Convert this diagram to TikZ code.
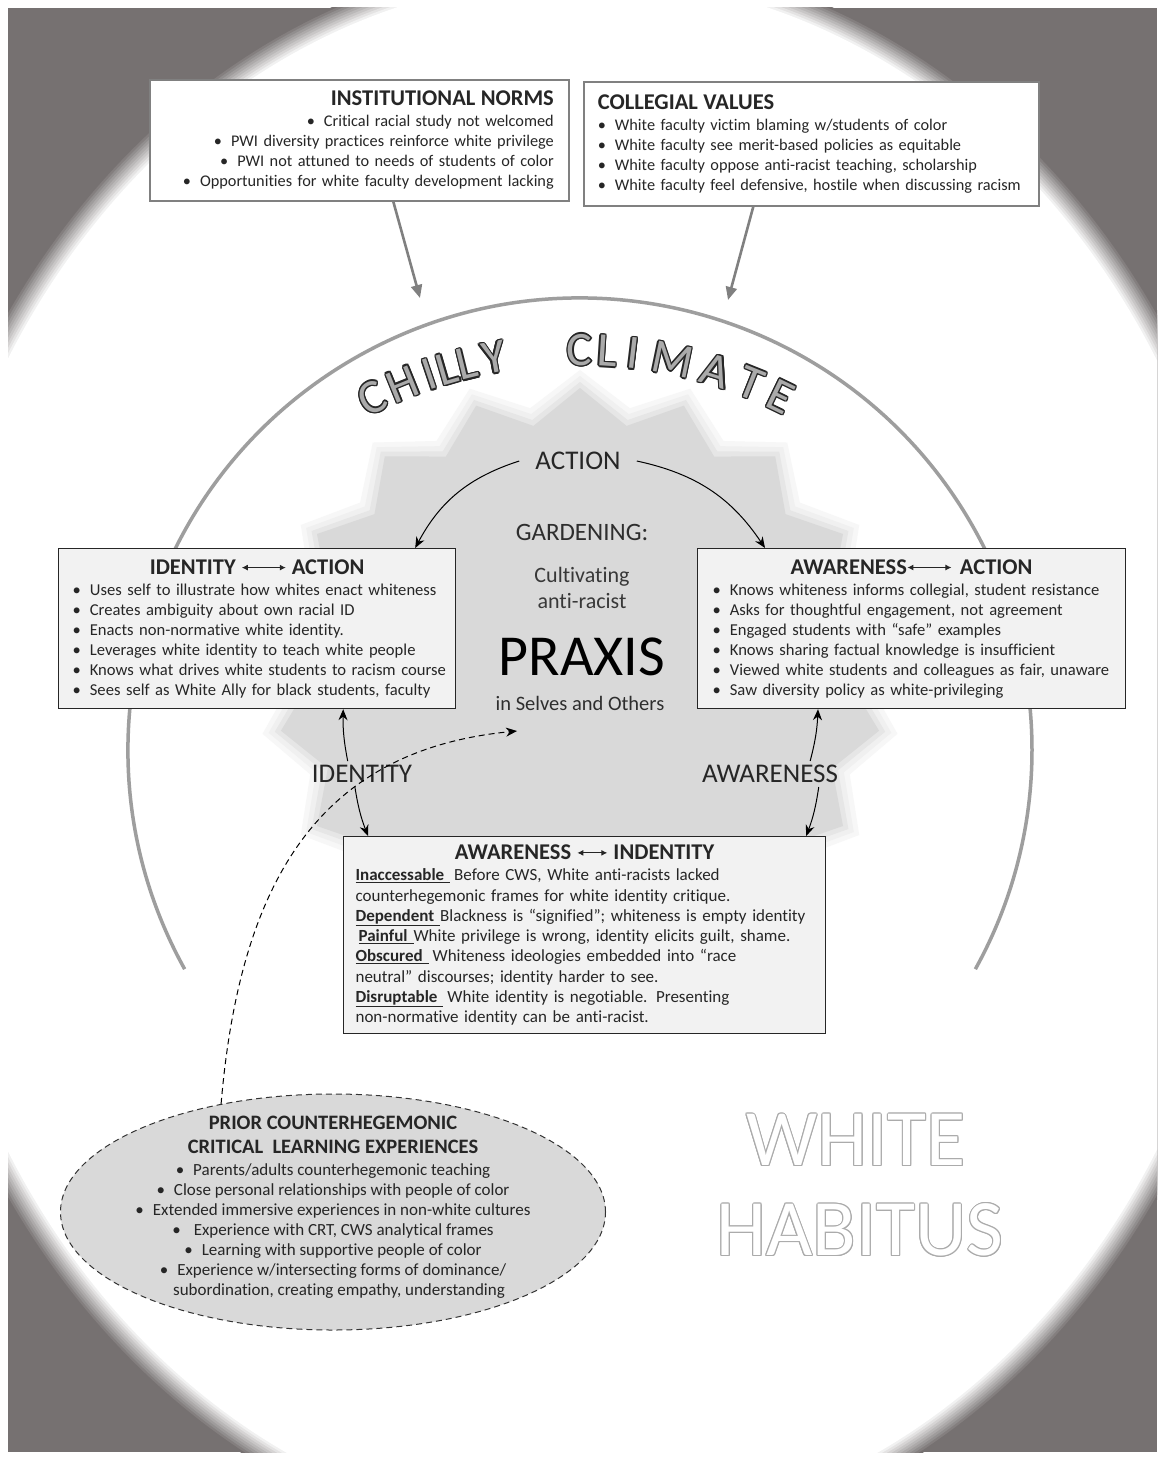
\documentclass[tikz,border=0pt]{standalone}
\usepackage{fontspec}
\setmainfont{Carlito}[Ligatures=NoCommon]
\usetikzlibrary{arrows.meta,calc,shapes.geometric}

\definecolor{framegray}{RGB}{118,113,113}
\definecolor{sungray}{RGB}{217,217,217}
\definecolor{boxgray}{RGB}{242,242,242}
\definecolor{ringgray}{RGB}{170,170,170}
\definecolor{inkgray}{RGB}{38,38,38}

% little double arrow used in the box titles
\newcommand\lrarr[1]{\tikz[baseline=-0.6ex]\draw[{Latex[length=6pt,width=6pt]}-{Latex[length=6pt,width=6pt]},line width=1pt] (0pt,0pt) -- (#1,0pt);}
\newcommand\boxhead[1]{{\bfseries\fontsize{22.5}{25}\selectfont #1}}
\newcommand\ovalhead[1]{{\bfseries\fontsize{20.5}{25}\selectfont #1}}
\newcommand\li[1]{\mbox{\textbullet\hspace{9pt}#1}}
\newcommand\term[1]{\underline{\textbf{#1}\hspace{6pt}}}
% text drawn as outline: copies in one colour, the fill on top
\newcommand\outlinetext[7]{%
  \foreach \oa in {0,30,...,330}
    \node[#3, text=#4] at ($(#2)+(\oa:#5)$) {#7};
  \node[#3, text=#6] (#1) at (#2) {#7};}

\tikzset{
  topbox/.style={draw=black!50, line width=1.6pt, fill=white, anchor=north west, inner sep=0pt,
    font=\fontsize{16.3}{20}\selectfont, text=inkgray},
  cycbox/.style={draw=black!85, line width=1.2pt, fill=boxgray, anchor=north west, inner sep=0pt,
    align=left, font=\fontsize{16.6}{20}\selectfont, text=inkgray},
  cyclabel/.style={font=\fontsize{27}{30}\selectfont, text=black!85, inner sep=4pt},
  cyc/.style={-{Stealth[length=11pt,width=9pt]}, line width=1pt},
  feed/.style={-{Triangle[length=13pt,width=11pt]}, line width=2.6pt, draw=black!50},
}

\begin{document}
\begin{tikzpicture}[x=1pt, y=-1pt]
\useasboundingbox (0,0) rectangle (1157,1458);

% frame with soft white oval
\begin{scope}
  \clip (8,8) rectangle (1157,1452);
  \fill[framegray] (8,8) rectangle (1157,1452);
  \foreach \i in {0,...,10}{
    \pgfmathtruncatemacro\p{10*\i}
    \pgfmathsetmacro\ra{691-2.4*\i}
    \pgfmathsetmacro\rb{802-2.4*\i}
    \fill[white!\p!framegray] (582,755) ellipse[x radius=\ra, y radius=\rb];
  }
\end{scope}

% sun behind the praxis cycle
\foreach \dr/\tone in {18/20,12/40,6/65,0/100}
  \fill[sungray!\tone!white] plot[samples=37, domain=0:36]
    ({580+1.04*(\dr+ifthenelse(mod(round(\x),2)==0,292,258))*cos(270+10*\x)},
     {680+(\dr+ifthenelse(mod(round(\x),2)==0,292,258))*sin(270+10*\x)}) -- cycle;

% chilly climate ring
\draw[black!38, line width=3.5pt] (580,750) ++(151:452) arc[start angle=151, end angle=389, radius=452];
\foreach \ch/\ang [count=\n] in {C/243.8,H/247.9,I/251.4,L/253.7,L/256.2,Y/259.6,C/270.2,L/273.6,I/276.8,M/281.7,A/287.2,T/291.8,E/295.8}{
  \pgfmathsetmacro\rot{270-\ang}
  \coordinate (chpos) at ($(578,816)+(\ang:466)$);
  \outlinetext{ch\n}{chpos}{font=\fontsize{48}{48}\selectfont, rotate=\rot}{black!85}{1.4}{ringgray}{\ch}
}

% outside pressures
\node[topbox, align=right, minimum width=419pt, minimum height=121pt, text width=389pt] (inst) at (149,79)
  {\boxhead{INSTITUTIONAL NORMS}\\[1pt]
   \li{Critical racial study not welcomed}\\
   \li{PWI diversity practices reinforce white privilege}\\
   \li{PWI not attuned to needs of students of color}\\
   \li{Opportunities for white faculty development lacking}};
\node[topbox, align=left, minimum width=455pt, minimum height=124pt, text width=427pt] (coll) at (583,81)
  {\boxhead{COLLEGIAL VALUES}\\[1pt]
   \li{White faculty victim blaming w/students of color}\\
   \li{White faculty see merit-based policies as equitable}\\
   \li{White faculty oppose anti-racist teaching, scholarship}\\
   \li{White faculty feel defensive, hostile when discussing racism}};
\coordinate (climL) at (420,298);
\coordinate (climR) at (728,300);
\draw[feed] ([xshift=34pt]inst.south) -- (climL);
\draw[feed] ([xshift=-58pt]coll.south) -- (climR);

% praxis centre
\node[font=\fontsize{25}{28}\selectfont, text=black!82] (garden) at (582,532) {GARDENING:};
\node[font=\fontsize{22}{26}\selectfont, text=black!78, align=center] (cult) at (582,588) {Cultivating\\anti-racist};
\node[font=\fontsize{58}{58}\selectfont] (praxis) at (582,657) {PRAXIS};
\node[font=\fontsize{20.5}{24}\selectfont, text=black!82] (selves) at (580,703) {in Selves and Others};

% the three boxes
\node[cycbox, minimum width=397pt, minimum height=160pt, text width=369pt] (idact) at (58,548)
  {\makebox[\hsize]{\boxhead{IDENTITY \lrarr{44pt} ACTION}}\\[1pt]
   \li{Uses self to illustrate how whites enact whiteness}\\
   \li{Creates ambiguity about own racial ID}\\
   \li{Enacts non-normative white identity.}\\
   \li{Leverages white identity to teach white people}\\
   \li{Knows what drives white students to racism course}\\
   \li{Sees self as White Ally for black students, faculty}};
\node[cycbox, minimum width=428pt, minimum height=160pt, text width=398pt] (awact) at (697,548)
  {\makebox[\hsize]{\boxhead{AWARENESS\lrarr{44pt}\hspace{8pt}ACTION}}\\[1pt]
   \li{Knows whiteness informs collegial, student resistance}\\
   \li{Asks for thoughtful engagement, not agreement}\\
   \li{Engaged students with “safe” examples}\\
   \li{Knows sharing factual knowledge is insufficient}\\
   \li{Viewed white students and colleagues as fair, unaware}\\
   \li{Saw diversity policy as white-privileging}};
\node[cycbox, font=\fontsize{17}{20.3}\selectfont, minimum width=482pt, minimum height=197pt, text width=458pt] (awid) at (343,836)
  {\makebox[\hsize]{\boxhead{AWARENESS \lrarr{30pt} INDENTITY}}\\[1pt]
   \mbox{\term{Inaccessable}\hspace{4pt}Before CWS, White anti-racists lacked}\\
   \mbox{counterhegemonic frames for white identity critique.}\\
   \mbox{\term{Dependent}Blackness is “signified”; whiteness is empty identity}\\
   \mbox{\hspace{3pt}\term{Painful}White privilege is wrong, identity elicits guilt, shame.}\\
   \mbox{\term{Obscured}\hspace{4pt}Whiteness ideologies embedded into “race}\\
   \mbox{neutral” discourses; identity harder to see.}\\
   \mbox{\term{Disruptable}\hspace{4pt}White identity is negotiable. Presenting}\\
   \mbox{non-normative identity can be anti-racist.}};

% cycle labels and arrows
\node[cyclabel, inner xsep=16pt] (act) at (578,461) {ACTION};
\node[cyclabel] (idl) at (362,774) {IDENTITY};
\node[cyclabel] (awl) at (770,774) {AWARENESS};
\draw[cyc] (act.west) to[bend right=22] ([xshift=-41pt]idact.north east);
\draw[cyc] (act.east) to[bend left=22] ([xshift=68pt]awact.north west);
\draw[cyc] (idl.138) to[bend left=6] ([xshift=-113pt]idact.south east);
\draw[cyc] (idl.241) to[bend right=6] ([xshift=25pt]awid.north west);
\draw[cyc] (awl.18) to[bend right=6] ([xshift=121pt]awact.south west);
\draw[cyc] (awl.-15) to[bend left=6] ([xshift=-20pt]awid.north east);

% prior experiences
\node[ellipse, draw=black!80, dash pattern=on 6pt off 4pt, line width=1pt, fill=sungray,
  minimum width=545pt, minimum height=236pt, inner sep=0pt] (prior) at (333,1212) {};
\node[align=center, text=inkgray, font=\fontsize{17}{20}\selectfont] (priortext) at (333,1207)
  {\ovalhead{PRIOR COUNTERHEGEMONIC}\\[4pt]
   \ovalhead{CRITICAL\ \ LEARNING EXPERIENCES}\\[2pt]
   \li{Parents/adults counterhegemonic teaching}\\
   \li{Close personal relationships with people of color}\\
   \li{Extended immersive experiences in non-white cultures}\\
   \li{\hspace{4pt}Experience with CRT, CWS analytical frames}\\
   \li{Learning with supportive people of color}\\
   \li{Experience w/intersecting forms of dominance/}\\
   \hspace{12pt}subordination, creating empathy, understanding};
\coordinate (dashtip) at (517,731);
\draw[dash pattern=on 6pt off 4pt, line width=1pt, -{Stealth[length=11pt,width=9pt]}]
  (prior.136) .. controls (240,880) and (320,750) .. (dashtip);

% white habitus
\coordinate (wpos) at (856,1140);
\coordinate (hpos) at (860,1230);
\outlinetext{whitetxt}{wpos}{font=\fontsize{80}{80}\selectfont}{black!33}{0.9}{white}{WHITE}
\outlinetext{habitustxt}{hpos}{font=\fontsize{80}{80}\selectfont}{black!33}{0.9}{white}{HABITUS}
\end{tikzpicture}
\end{document}
